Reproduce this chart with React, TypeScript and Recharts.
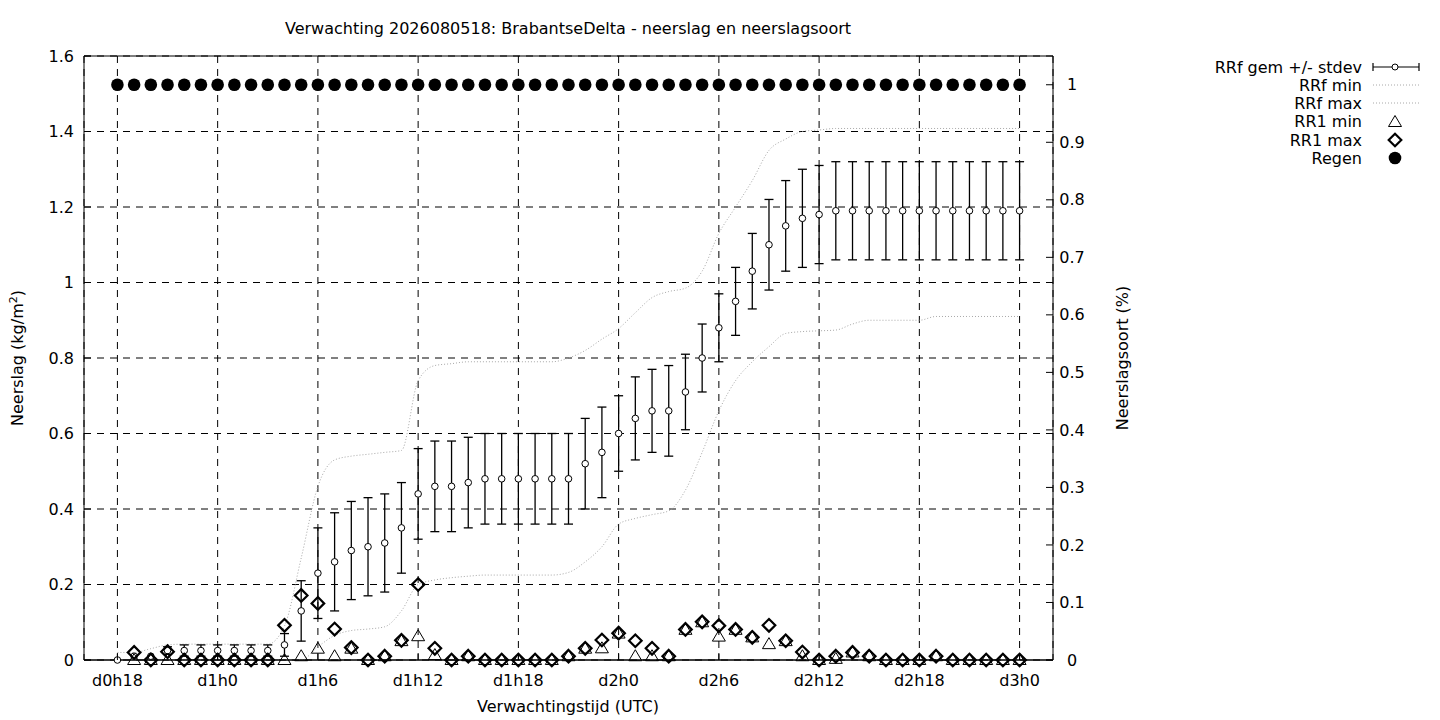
import React from 'react';
import { ComposedChart, Line, Scatter, ErrorBar, XAxis, YAxis, CartesianGrid, ReferenceLine } from 'recharts';

const FONT = '"DejaVu Sans", Verdana, sans-serif';
const FS = 16;

// forecast hours (d0h18 .. d3h0)
const hours = [
  18, 19, 20, 21, 22, 23, 24, 25, 26, 27, 28, 29, 30, 31, 32, 33, 34, 35, 36,
  37, 38, 39, 40, 41, 42, 43, 44, 45, 46, 47, 48, 49, 50, 51, 52, 53, 54, 55,
  56, 57, 58, 59, 60, 61, 62, 63, 64, 65, 66, 67, 68, 69, 70, 71, 72,
];

// RRf gem + stdev
const meanVals = [
  0, 0.01, 0.01, 0.025, 0.025, 0.025, 0.025, 0.025, 0.025, 0.025, 0.04, 0.13, 0.23,
  0.26, 0.29, 0.3, 0.31, 0.35, 0.44, 0.46, 0.46, 0.47, 0.48, 0.48, 0.48, 0.48, 0.48,
  0.48, 0.52, 0.55, 0.6, 0.64, 0.66, 0.66, 0.71, 0.8, 0.88, 0.95, 1.03, 1.1, 1.15,
  1.17, 1.18, 1.19, 1.19, 1.19, 1.19, 1.19, 1.19, 1.19, 1.19, 1.19, 1.19, 1.19, 1.19,
];
const sdVals = [
  0, 0, 0, 0.01, 0.015, 0.015, 0.015, 0.015, 0.015, 0.015, 0.03, 0.08, 0.12,
  0.13, 0.13, 0.13, 0.13, 0.12, 0.12, 0.12, 0.12, 0.12, 0.12, 0.12, 0.12, 0.12, 0.12,
  0.12, 0.12, 0.12, 0.1, 0.11, 0.11, 0.12, 0.1, 0.09, 0.09, 0.09, 0.1, 0.12, 0.12,
  0.13, 0.13, 0.13, 0.13, 0.13, 0.13, 0.13, 0.13, 0.13, 0.13, 0.13, 0.13, 0.13, 0.13,
];

// RRf min / max (dotted)
const rminVals = [
  0, 0, 0, 0, 0, 0, 0, 0, 0, 0, 0, 0, 0.035, 0.065, 0.078, 0.082, 0.088, 0.13, 0.2,
  0.212, 0.218, 0.222, 0.225, 0.225, 0.225, 0.225, 0.225, 0.232, 0.26, 0.3, 0.36,
  0.375, 0.385, 0.395, 0.45, 0.55, 0.66, 0.74, 0.79, 0.83, 0.865, 0.87, 0.872, 0.874,
  0.89, 0.9, 0.9, 0.9, 0.9, 0.91, 0.91, 0.91, 0.91, 0.91, 0.91,
];
const rmaxVals = [
  0.02, 0.02, 0.03, 0.04, 0.042, 0.042, 0.042, 0.042, 0.042, 0.042, 0.09, 0.27, 0.46,
  0.53, 0.54, 0.545, 0.55, 0.555, 0.74, 0.78, 0.785, 0.79, 0.79, 0.79, 0.79, 0.79,
  0.79, 0.8, 0.82, 0.85, 0.878, 0.92, 0.96, 0.976, 0.985, 1.03, 1.13, 1.2, 1.27, 1.35,
  1.38, 1.4, 1.404, 1.408, 1.408, 1.408, 1.408, 1.408, 1.408, 1.408, 1.408, 1.408,
  1.408, 1.408, 1.408,
];

// Regen (right axis)
const regenVals = [
  1, 1, 1, 1, 1, 1, 1, 1, 1, 1, 1, 1, 1, 1, 1, 1, 1, 1, 1, 1, 1, 1, 1, 1, 1, 1, 1, 1,
  1, 1, 1, 1, 1, 1, 1, 1, 1, 1, 1, 1, 1, 1, 1, 1, 1, 1, 1, 1, 1, 1, 1, 1, 1, 1, 1,
];

// RR1 min / max, hours 19 .. 72
const rr1Hours = hours.slice(1);
const rr1MinVals = [
  0, 0, 0, 0, 0, 0, 0, 0, 0, 0, 0.01, 0.03, 0.01, 0.03, 0, 0.01, 0.05, 0.063, 0.013,
  0, 0.01, 0, 0, 0, 0, 0, 0.01, 0.03, 0.031, 0.07, 0.01, 0.01, 0.01, 0.08, 0.1, 0.062,
  0.08, 0.06, 0.042, 0.05, 0.01, 0, 0.003, 0.02, 0.01, 0, 0, 0, 0.01, 0, 0, 0, 0, 0,
];
const rr1MaxVals = [
  0.02, 0, 0.022, 0, 0, 0, 0, 0, 0, 0.092, 0.171, 0.15, 0.082, 0.033, 0, 0.01, 0.052,
  0.2, 0.031, 0, 0.01, 0, 0, 0, 0, 0, 0.01, 0.031, 0.053, 0.071, 0.051, 0.031, 0.01,
  0.081, 0.101, 0.091, 0.081, 0.06, 0.092, 0.051, 0.021, 0, 0.01, 0.02, 0.01, 0, 0, 0,
  0.01, 0, 0, 0, 0, 0,
];

const xTicks = [18, 24, 30, 36, 42, 48, 54, 60, 66, 72];
const xTickLabels = ['d0h18', 'd1h0', 'd1h6', 'd1h12', 'd1h18', 'd2h0', 'd2h6', 'd2h12', 'd2h18', 'd3h0'];
const leftTicks = [0, 0.2, 0.4, 0.6, 0.8, 1, 1.2, 1.4, 1.6];
const rightTicks = [0, 0.1, 0.2, 0.3, 0.4, 0.5, 0.6, 0.7, 0.8, 0.9, 1];

const rows = hours.map((h, i) => ({
  h,
  mean: meanVals[i],
  sd: sdVals[i],
  rmin: rminVals[i],
  rmax: rmaxVals[i],
  regen: regenVals[i],
}));
const rr1Rows = rr1Hours.map((h, i) => ({ h, r1min: rr1MinVals[i], r1max: rr1MaxVals[i] }));

const DOT_GREY = '#a8a8a8';

const LeftTick = (p: any) => (
  <g>
    <line x1={p.x + 10} x2={p.x + 17} y1={p.y} y2={p.y} stroke="#000" />
    <text x={p.x} y={p.y} dy="0.35em" textAnchor="end" fontSize={FS} fontFamily={FONT} fill="#000">
      {String(p.payload.value)}
    </text>
  </g>
);

const RightTick = (p: any) => (
  <g>
    <line x1={p.x - 19} x2={p.x - 26} y1={p.y} y2={p.y} stroke="#000" />
    <text x={p.x} y={p.y} dy="0.35em" textAnchor="middle" fontSize={FS} fontFamily={FONT} fill="#000">
      {String(p.payload.value)}
    </text>
  </g>
);

const BottomTick = (p: any) => {
  const idx = xTicks.indexOf(p.payload.value);
  return (
    <g>
      <line x1={p.x} x2={p.x} y1={p.y} y2={p.y - 7} stroke="#000" />
      <text x={p.x} y={p.y + 26} textAnchor="middle" fontSize={FS} fontFamily={FONT} fill="#000">
        {xTickLabels[idx]}
      </text>
    </g>
  );
};

const MeanDot = (p: any) => <circle cx={p.cx} cy={p.cy} r={3.3} fill="#fff" stroke="#000" strokeWidth={1} />;
const Triangle = (p: any) => (
  <path
    d={`M${p.cx},${p.cy - 6.5} L${p.cx - 6.5},${p.cy + 4.5} L${p.cx + 6.5},${p.cy + 4.5} Z`}
    fill="none"
    stroke="#000"
    strokeWidth={1}
  />
);
const Diamond = (p: any) => (
  <path
    d={`M${p.cx},${p.cy - 6.3} L${p.cx + 6.3},${p.cy} L${p.cx},${p.cy + 6.3} L${p.cx - 6.3},${p.cy} Z`}
    fill="none"
    stroke="#000"
    strokeWidth={2.2}
  />
);
const RainDot = (p: any) => <circle cx={p.cx} cy={p.cy} r={6.3} fill="#000" />;

const legendRows = ['RRf gem +/- stdev', 'RRf min', 'RRf max', 'RR1 min', 'RR1 max', 'Regen'];
const legendY = [67, 85, 103, 121, 140, 158];

function LegendOverlay() {
  const sx = 1395;
  return (
    <svg width={1440} height={720} style={{ position: 'absolute', left: 0, top: 0, pointerEvents: 'none' }}>
      <text x={568} y={34} textAnchor="middle" fontSize={FS} fontFamily={FONT}>
        Verwachting 2026080518: BrabantseDelta - neerslag en neerslagsoort
      </text>
      <text x={568} y={712} textAnchor="middle" fontSize={FS} fontFamily={FONT}>
        Verwachtingstijd (UTC)
      </text>
      <text transform="translate(23,358) rotate(-90)" textAnchor="middle" fontSize={FS} fontFamily={FONT}>
        Neerslag (kg/m<tspan dy={-6} fontSize={11}>2</tspan>
        <tspan dy={6}>)</tspan>
      </text>
      <text transform="translate(1128,358) rotate(-90)" textAnchor="middle" fontSize={FS} fontFamily={FONT}>
        Neerslagsoort (%)
      </text>
      {legendRows.map((label, i) => (
        <text key={label} x={1362} y={legendY[i]} dy="0.35em" textAnchor="end" fontSize={FS} fontFamily={FONT}>
          {label}
        </text>
      ))}
      <g stroke="#000" strokeWidth={1.2}>
        <line x1={1373} x2={1419} y1={legendY[0]} y2={legendY[0]} />
        <line x1={1373} x2={1373} y1={legendY[0] - 4} y2={legendY[0] + 4} />
        <line x1={1419} x2={1419} y1={legendY[0] - 4} y2={legendY[0] + 4} />
      </g>
      <circle cx={sx} cy={legendY[0]} r={3} fill="#fff" stroke="#000" />
      <line x1={1373} x2={1419} y1={legendY[1]} y2={legendY[1]} stroke={DOT_GREY} strokeDasharray="1 2" />
      <line x1={1373} x2={1419} y1={legendY[2]} y2={legendY[2]} stroke={DOT_GREY} strokeDasharray="1 2" />
      <Triangle cx={sx} cy={legendY[3] + 1} />
      <Diamond cx={sx} cy={legendY[4]} />
      <RainDot cx={sx} cy={legendY[5]} />
    </svg>
  );
}

export default function App() {
  return (
    <div style={{ position: 'relative', width: 1440, height: 720, background: '#fff' }}>
      <style>{'body{margin:0}'}</style>
      <ComposedChart
        width={1440}
        height={720}
        data={rows}
        margin={{ top: 56, right: 327, bottom: 30, left: 24 }}
      >
        <CartesianGrid yAxisId="left" stroke="#000" strokeDasharray="7 6" strokeWidth={1} />
        <XAxis
          dataKey="h"
          type="number"
          domain={[16, 74]}
          ticks={xTicks}
          height={30}
          tickSize={0}
          tickMargin={0}
          tickLine={false}
          axisLine={{ stroke: '#000' }}
          tick={<BottomTick />}
          interval={0}
        />
        <YAxis
          yAxisId="left"
          orientation="left"
          domain={[0, 1.6]}
          ticks={leftTicks}
          width={60}
          tickSize={0}
          tickMargin={10}
          tickLine={false}
          axisLine={{ stroke: '#000' }}
          tick={<LeftTick />}
          interval={0}
        />
        <YAxis
          yAxisId="right"
          orientation="right"
          domain={[0, 1.05]}
          ticks={rightTicks}
          width={60}
          tickSize={0}
          tickMargin={19}
          tickLine={false}
          axisLine={{ stroke: '#000' }}
          tick={<RightTick />}
          interval={0}
        />
        <ReferenceLine yAxisId="left" y={1.6} stroke="#000" />
        <Line
          yAxisId="left"
          dataKey="rmin"
          type="monotone"
          stroke={DOT_GREY}
          strokeDasharray="1 2"
          dot={false}
          isAnimationActive={false}
        />
        <Line
          yAxisId="left"
          dataKey="rmax"
          type="monotone"
          stroke={DOT_GREY}
          strokeDasharray="1 2"
          dot={false}
          isAnimationActive={false}
        />
        <ReferenceLine yAxisId="left" y={0} stroke="#000" />
        <Scatter yAxisId="left" data={rows} dataKey="mean" shape={<MeanDot />} isAnimationActive={false}>
          <ErrorBar dataKey="sd" direction="y" width={4.5} stroke="#000" strokeWidth={1.3} />
        </Scatter>
        <Scatter yAxisId="left" data={rr1Rows} dataKey="r1min" shape={<Triangle />} isAnimationActive={false} />
        <Scatter yAxisId="left" data={rr1Rows} dataKey="r1max" shape={<Diamond />} isAnimationActive={false} />
        <Scatter yAxisId="right" data={rows} dataKey="regen" shape={<RainDot />} isAnimationActive={false} />
      </ComposedChart>
      <LegendOverlay />
    </div>
  );
}
